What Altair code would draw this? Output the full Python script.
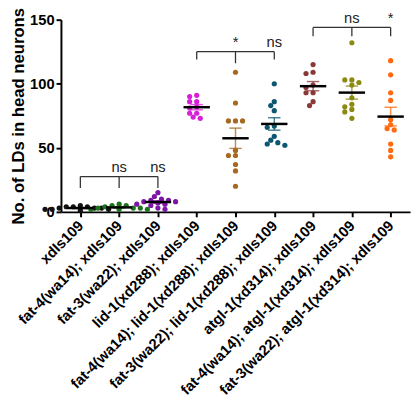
import json
import altair as alt
import pandas as pd

# ---------------- data ----------------
groups = [
    "xdIs109",
    "fat-4(wa14); xdIs109",
    "fat-3(wa22); xdIs109",
    "lid-1(xd288); xdIs109",
    "fat-4(wa14); lid-1(xd288); xdIs109",
    "fat-3(wa22); lid-1(xd288); xdIs109",
    "atgl-1(xd314); xdIs109",
    "fat-4(wa14); atgl-1(xd314); xdIs109",
    "fat-3(wa22); atgl-1(xd314); xdIs109",
]
colors = ["#111111", "#1c731c", "#7d16a6", "#d81fd8", "#a5691f",
          "#0d5670", "#8a3838", "#8c8a12", "#ff6a10"]

v_wt = [5, 4, 4, 3, 3, 2, 2, 3, 2, 4, 1]
v_fat4 = [6, 5, 5, 4, 3, 3, 2, 2, 3, 2]
v_fat3 = [15, 12, 10, 9, 9, 8, 8, 7, 6, 6, 5, 3, 2]
v_lid1 = [91, 90, 86, 86, 82, 81, 77, 77, 74, 73]
v_fat4_lid1 = [109, 85, 71, 71, 71, 48, 44, 44, 37, 32, 20]
v_fat3_lid1 = [100, 86, 83, 79, 67, 66, 59, 56, 54, 53, 52]
v_atgl1 = [115, 108, 109, 97, 99, 93, 93, 86, 83]
v_fat4_atgl1 = [132, 103, 103, 101, 99, 89, 84, 82, 80, 78, 73]
v_fat3_atgl1 = [118, 107, 93, 87, 72, 68, 65, 64, 53, 48, 43]
values = [v_wt, v_fat4, v_fat3, v_lid1, v_fat4_lid1, v_fat3_lid1,
          v_atgl1, v_fat4_atgl1, v_fat3_atgl1]

# significance brackets (category indices, level in data units)
br_start = [0, 3, 6]
br_end = [2, 5, 8]
br_level = [27.6, 125, 144]
br_drop_end = [9, 6, 7]
br_drop_mid = [9, 9, 7]
sig_idx = [1, 2, 4, 5, 7, 8]
sig_text = ["ns", "ns", "*", "ns", "ns", "*"]
sig_bracket = [0, 0, 1, 1, 2, 2]

# ---------------- layout ----------------
W, H = 356, 196
YMAX = 150
px_per_unit = H / YMAX
px_per_cat = W / len(groups)
DOT = 4.6      # px, min centre distance (dots may overlap a little)
STEP = 3.6     # px, candidate horizontal spacing

rows = []
for i, (g, vals) in enumerate(zip(groups, values)):
    placed = []  # (xpx, ypx)
    cands = [0.0]
    for j in range(1, 20):
        cands += [-j * STEP, j * STEP]
    for v in sorted(vals, reverse=True):
        ypx = v * px_per_unit
        for xc in cands:
            if all((xc - px) ** 2 + (ypx - py) ** 2 >= DOT ** 2 for px, py in placed):
                break
        placed.append((xc, ypx))
        rows.append({"idx": i, "group": g, "value": v, "xpos": i + xc / px_per_cat})
pts = pd.DataFrame(rows)

seg = []
for s, e, lv, de, dm in zip(br_start, br_end, br_level, br_drop_end, br_drop_mid):
    m = (s + e) / 2
    seg.append({"x": s, "x2": e, "y": lv, "y2": lv})
    seg.append({"x": s, "x2": s, "y": lv, "y2": lv - de})
    seg.append({"x": m, "x2": m, "y": lv, "y2": lv - dm})
    seg.append({"x": e, "x2": e, "y": lv, "y2": lv - de})
segs = pd.DataFrame(seg)
sig = pd.DataFrame({"x": sig_idx, "text": sig_text,
                    "y": [br_level[b] + 3.5 for b in sig_bracket]})

FONT = "Liberation Sans"
xscale = alt.Scale(domain=[-0.5, len(groups) - 0.5], nice=False, zero=False)
yscale = alt.Scale(domain=[0, YMAX], nice=False)
cscale = alt.Scale(domain=groups, range=colors)

label_expr = json.dumps(groups) + "[datum.value]"

base = alt.Chart(pts)

points = base.mark_circle(size=28, opacity=1).encode(
    x=alt.X("xpos:Q", scale=xscale,
            axis=alt.Axis(values=list(range(len(groups))), labelExpr=label_expr,
                          labelAngle=-45, labelAlign="right", labelBaseline="middle",
                          labelPadding=6, labelFontSize=15, labelOverlap=False,
                          labelLimit=0, labelBound=False, title=None)),
    y=alt.Y("value:Q", scale=yscale,
            axis=alt.Axis(values=[0, 50, 100, 150], labelFontSize=15, labelPadding=2,
                          title="No. of LDs in head neurons", titleFontSize=17,
                          titlePadding=2)),
    color=alt.Color("group:N", scale=cscale, legend=None),
)

summ = base.transform_aggregate(
    m="mean(value)", se="stderr(value)", groupby=["idx", "group"]
).transform_calculate(
    lo="datum.m - datum.se", hi="datum.m + datum.se",
    xl="datum.idx - 0.34", xr="datum.idx + 0.34",
    cl="datum.idx - 0.16", cr="datum.idx + 0.16",
)

err_v = summ.mark_rule(strokeWidth=1.5, opacity=0.75).encode(
    x=alt.X("idx:Q", scale=xscale), y=alt.Y("lo:Q", scale=yscale), y2="hi:Q",
    color=alt.Color("group:N", scale=cscale, legend=None))
cap_lo = summ.mark_rule(strokeWidth=1.5, opacity=0.75).encode(
    x=alt.X("cl:Q", scale=xscale), x2="cr:Q", y=alt.Y("lo:Q", scale=yscale),
    color=alt.Color("group:N", scale=cscale, legend=None))
cap_hi = summ.mark_rule(strokeWidth=1.5, opacity=0.75).encode(
    x=alt.X("cl:Q", scale=xscale), x2="cr:Q", y=alt.Y("hi:Q", scale=yscale),
    color=alt.Color("group:N", scale=cscale, legend=None))
mean_line = summ.mark_rule(strokeWidth=2.5, color="black").encode(
    x=alt.X("xl:Q", scale=xscale), x2="xr:Q", y=alt.Y("m:Q", scale=yscale))

brackets = alt.Chart(segs).mark_rule(strokeWidth=1.3, color="#333333", clip=False).encode(
    x=alt.X("x:Q", scale=xscale), x2="x2:Q", y=alt.Y("y:Q", scale=yscale), y2="y2:Q")
sig_labels = alt.Chart(sig).mark_text(font=FONT, fontSize=15, color="#222222",
                                      baseline="alphabetic", clip=False).encode(
    x=alt.X("x:Q", scale=xscale), y=alt.Y("y:Q", scale=yscale), text="text:N")

chart = alt.layer(points, err_v, cap_lo, cap_hi, mean_line, brackets, sig_labels).properties(
    width=W, height=H,
    autosize=alt.AutoSizeParams(type="none"),
    padding={"left": 54, "top": 8, "right": 2, "bottom": 192},
).configure_view(stroke=None).configure_axis(
    grid=False, domainColor="black", domainWidth=2, tickColor="black", tickWidth=2,
    tickSize=5, labelColor="black", titleColor="black", labelFont=FONT, titleFont=FONT,
    labelFontWeight="bold", titleFontWeight="bold",
)

chart.save("out.html", embed_options={"renderer": "svg", "actions": False})
